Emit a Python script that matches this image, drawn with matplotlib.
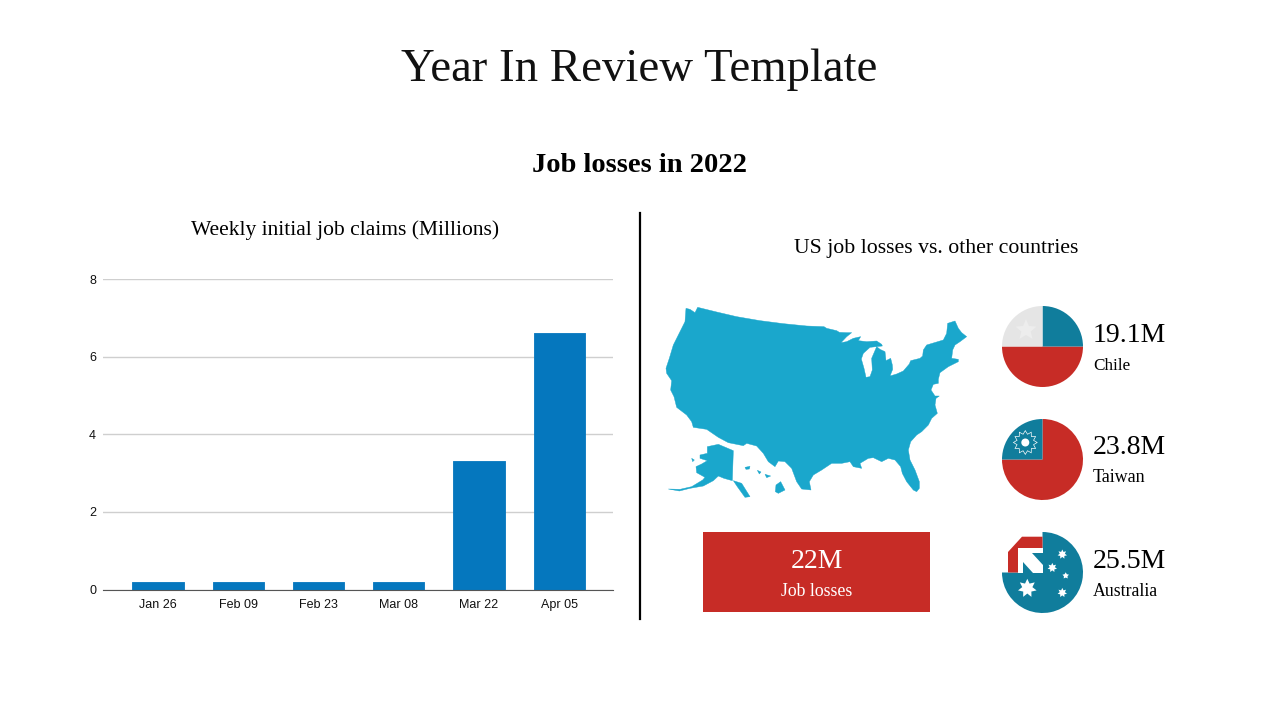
import numpy as np
import matplotlib
matplotlib.use("Agg")
import matplotlib.pyplot as plt
from matplotlib.patches import Polygon, Wedge, Rectangle, Circle

SERIF = ["Liberation Serif", "DejaVu Serif"]
SANS = ["Liberation Sans", "DejaVu Sans"]
TEAL, RED, LIGHT, MAP, BAR = "#107D9C", "#C72C26", "#E5E5E5", "#1AA7CC", "#0577BE"

months = ["Jan 26", "Feb 09", "Feb 23", "Mar 08", "Mar 22", "Apr 05"]
claims = [0.2, 0.2, 0.2, 0.2, 3.3, 6.6]
countries = ["Chile", "Taiwan", "Australia"]
country_losses = ["19.1M", "23.8M", "25.5M"]

us_outline = [(108,55),(120,58),(135,68),(143,52),(200,66),(260,80),(330,92),(400,101),(470,108),(522,110),(530,115),(560,122),(568,127),(590,128),(605,128),(590,140),(573,158),(590,155),(610,145),(632,140),(625,152),(650,155),(680,153),(695,163),(697,168),(660,172),(640,190),(634,207),(642,235),(648,262),(660,260),(667,240),(665,205),(680,170),(690,178),(705,185),(708,212),(722,205),(727,225),(728,238),(720,258),(740,252),(760,243),(778,222),(782,212),(810,205),(818,198),(820,180),(830,165),(880,150),(890,130),(893,100),(915,93),(925,115),(935,128),(950,140),(930,155),(915,165),(908,180),(905,205),(925,208),(925,215),(895,230),(870,248),(865,268),(865,280),(850,283),(843,300),(855,318),(868,318),(858,325),(855,345),(862,370),(845,385),(835,405),(815,425),(800,435),(782,455),(775,480),(780,510),(795,540),(808,575),(808,595),(800,605),(790,600),(770,575),(757,550),(752,530),(735,510),(715,505),(695,515),(670,503),(655,505),(630,520),(635,535),(610,530),(600,515),(575,520),(545,520),(515,540),(490,555),(478,575),(483,600),(455,597),(440,575),(425,535),(405,515),(385,513),(375,530),(355,515),(340,490),(320,468),(290,460),(280,467),(235,458),(205,442),(170,418),(130,412),(125,395),(110,375),(80,352),(72,320),(62,300),(65,272),(50,250),(48,235),(58,205),(70,165),(90,125),(105,95)]
alaska = [(172,470),(205,463),(250,482),(247,572),(222,565),(205,558),(190,572),(160,588),(120,595),(88,603),(55,597),(90,598),(125,590),(158,570),(165,562),(140,548),(138,530),(155,522),(172,512),(150,505),(150,495),(172,490)]
panhandle = [(250,572),(275,580),(300,620),(285,622),(262,590)]
hawaii = [(378,585),(392,575),(405,600),(385,610),(376,605)]
hawaii2 = [(322,541),(333,546),(328,552)]
hawaii3 = [(345,553),(362,558),(350,563)]
hawaii4 = [(285,532),(300,529),(298,537),(288,538)]
islet = [(125,505),(133,510),(128,515)]

fig = plt.figure(figsize=(12.8, 7.2), dpi=100, facecolor="white")

# bar chart
ax = fig.add_axes([103/1280, 1-589.5/720, 510/1280, 310.5/720])
bars = ax.bar(range(len(months)), claims, width=0.64, color=BAR, edgecolor=BAR, lw=0.6)
for b in bars:
    b.set_joinstyle("round")
ax.set_xlim(-0.685, 5.67); ax.set_ylim(0, 8)
ax.set_yticks([0, 2, 4, 6, 8])
ax.set_xticks(range(len(months))); ax.set_xticklabels(months)
ax.tick_params(axis="x", length=0, labelsize=9, pad=7)
ax.tick_params(axis="y", length=0, labelsize=9, pad=5)
for t in ax.get_xticklabels() + ax.get_yticklabels():
    t.set_family(SANS); t.set_color("#111111")
ax.grid(axis="y", color="#CFCFCF", lw=1); ax.set_axisbelow(True)
for s in ["top", "right", "left"]:
    ax.spines[s].set_visible(False)
ax.spines["bottom"].set_color("#555555")

# pixel-space overlay
ov = fig.add_axes([0, 0, 1, 1], facecolor="none")
ov.set_xlim(0, 1280); ov.set_ylim(720, 0); ov.axis("off")

def z(pts):
    return [(650 + x/3, 290 + y/3) for x, y in pts]

def txt(x, y, s, size, **kw):
    kw.setdefault("ha", "center")
    ov.text(x, y, s, fontsize=size, family=SERIF, va="center", color=kw.pop("color", "black"), **kw)

txt(639.5, 70, "Year In Review Template", 33.7, color="#111111")
txt(639.5, 166, "Job losses in 2022", 20.5, fontweight="bold")
txt(345, 230, "Weekly initial job claims (Millions)", 15.5)
txt(936, 248, "US job losses vs. other countries", 15.7)
ov.plot([640, 640], [213, 619], color="black", lw=1.6)

for p in (us_outline, alaska, panhandle, hawaii, hawaii2, hawaii3, hawaii4, islet):
    ov.add_patch(Polygon(z(p), closed=True, fc=MAP, ec=MAP, lw=0.3))

ov.add_patch(Rectangle((703, 532), 227, 80, fc=RED, ec="none"))
txt(816.5, 561, "22M", 20, color="white")
txt(816.5, 591, "Job losses", 12.8, color="white")

def star(cx, cy, r, n=5, inner=0.45, color="white", rot=-90):
    a = np.deg2rad(rot + np.arange(2*n) * 180/n)
    rr = np.where(np.arange(2*n) % 2 == 0, r, r*inner)
    ov.add_patch(Polygon(np.c_[cx + rr*np.cos(a), cy + rr*np.sin(a)], fc=color, ec="none"))

R = 40.5
CX = 1042.5
CY = [346.5, 459.5, 572.5]

def wedge(cy, a1, a2, col):
    ov.add_patch(Wedge((CX, cy), R, a1, a2, fc=col, ec="none"))

wedge(CY[0], 0, 180, RED); wedge(CY[0], 270, 360, TEAL); wedge(CY[0], 180, 270, LIGHT)
star(1026, 330, 11, color="#EDEDED")

wedge(CY[1], 270, 180+360, RED); wedge(CY[1], 180, 270, TEAL)
star(1025.3, 442.5, 12.5, n=12, inner=0.72, color="white")
star(1025.3, 442.5, 11.2, n=12, inner=0.72, color=TEAL)
ov.add_patch(Circle((1025.3, 442.5), 4, fc="white", ec="none"))

wedge(CY[2], 270, 180+360, TEAL)
ov.add_patch(Polygon([(1008,572.5),(1008,552),(1022,536.7),(CX,536.7),(CX,572.5)], fc=RED, ec="none"))
ov.add_patch(Polygon([(1018.3,572.5),(1018.3,547.5),(CX,547.5),(CX,572.5)], fc="white", ec="none"))
ov.add_patch(Polygon([(1023.3,561.7),(1023.3,572.5),(1033.3,572.5)], fc=TEAL, ec="none"))
ov.add_patch(Polygon([(1031.7,553.3),(CX,553.3),(CX,565)], fc=TEAL, ec="none"))
for cx, cy, r, n in [(1027.3,588.3,9.5,7),(1062.3,554.3,4.8,7),(1052.3,567.7,4.8,7),(1065.7,575.7,3.4,5),(1062.3,592.7,4.8,7)]:
    star(cx, cy, r, n=n, inner=0.55)

for name, val, y1, y2, fs in zip(countries, country_losses, [336, 448, 561], [366, 478, 591], [12.3, 13, 12.8]):
    txt(1093, y1, val, 20, ha="left")
    txt(1093, y2, name, fs, ha="left")

fig.savefig("out.png", dpi=100)
